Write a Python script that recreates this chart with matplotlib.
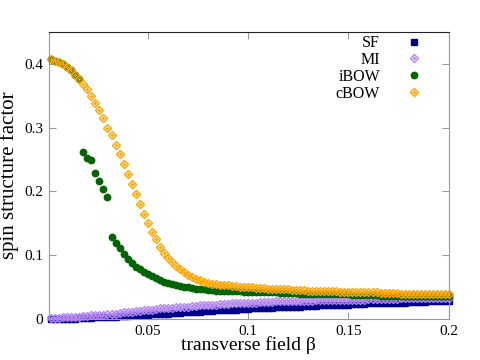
import numpy as np
import matplotlib
matplotlib.use("Agg")
import matplotlib.pyplot as plt
from matplotlib.legend_handler import HandlerTuple

plt.rcParams['font.family'] = ['Liberation Serif', 'DejaVu Serif']

# transverse field grid (beta)
beta = [
    0.002, 0.004, 0.006, 0.008, 0.010, 0.012, 0.014, 0.016, 0.018, 0.020,
    0.022, 0.024, 0.026, 0.028, 0.030, 0.032, 0.034, 0.036, 0.038, 0.040,
    0.042, 0.044, 0.046, 0.048, 0.050, 0.052, 0.054, 0.056, 0.058, 0.060,
    0.062, 0.064, 0.066, 0.068, 0.070, 0.072, 0.074, 0.076, 0.078, 0.080,
    0.082, 0.084, 0.086, 0.088, 0.090, 0.092, 0.094, 0.096, 0.098, 0.100,
    0.102, 0.104, 0.106, 0.108, 0.110, 0.112, 0.114, 0.116, 0.118, 0.120,
    0.122, 0.124, 0.126, 0.128, 0.130, 0.132, 0.134, 0.136, 0.138, 0.140,
    0.142, 0.144, 0.146, 0.148, 0.150, 0.152, 0.154, 0.156, 0.158, 0.160,
    0.162, 0.164, 0.166, 0.168, 0.170, 0.172, 0.174, 0.176, 0.178, 0.180,
    0.182, 0.184, 0.186, 0.188, 0.190, 0.192, 0.194, 0.196, 0.198, 0.200,
]

sf = [
    0.000, 0.000, 0.001, 0.001, 0.001, 0.001, 0.001, 0.002, 0.002, 0.002,
    0.002, 0.003, 0.003, 0.003, 0.004, 0.004, 0.004, 0.005, 0.005, 0.005,
    0.006, 0.006, 0.006, 0.007, 0.007, 0.008, 0.008, 0.008, 0.009, 0.009,
    0.010, 0.010, 0.010, 0.011, 0.011, 0.012, 0.012, 0.012, 0.013, 0.013,
    0.013, 0.014, 0.014, 0.014, 0.015, 0.015, 0.015, 0.016, 0.016, 0.016,
    0.017, 0.017, 0.017, 0.018, 0.018, 0.018, 0.019, 0.019, 0.019, 0.020,
    0.020, 0.020, 0.020, 0.021, 0.021, 0.021, 0.021, 0.022, 0.022, 0.022,
    0.022, 0.023, 0.023, 0.023, 0.023, 0.024, 0.024, 0.024, 0.024, 0.025,
    0.025, 0.025, 0.025, 0.025, 0.026, 0.026, 0.026, 0.026, 0.026, 0.027,
    0.027, 0.027, 0.027, 0.027, 0.028, 0.028, 0.028, 0.028, 0.028, 0.029,
]

mi = [
    0.002, 0.002, 0.002, 0.003, 0.003, 0.003, 0.004, 0.004, 0.005, 0.005,
    0.006, 0.006, 0.007, 0.007, 0.008, 0.009, 0.009, 0.010, 0.011, 0.011,
    0.012, 0.013, 0.013, 0.014, 0.015, 0.015, 0.016, 0.017, 0.017, 0.018,
    0.018, 0.019, 0.019, 0.020, 0.020, 0.021, 0.021, 0.022, 0.022, 0.023,
    0.023, 0.023, 0.024, 0.024, 0.024, 0.025, 0.025, 0.025, 0.026, 0.026,
    0.026, 0.026, 0.027, 0.027, 0.027, 0.027, 0.028, 0.028, 0.028, 0.028,
    0.028, 0.029, 0.029, 0.029, 0.029, 0.029, 0.030, 0.030, 0.030, 0.030,
    0.030, 0.030, 0.031, 0.031, 0.031, 0.031, 0.031, 0.031, 0.031, 0.032,
    0.032, 0.032, 0.032, 0.032, 0.032, 0.032, 0.032, 0.033, 0.033, 0.033,
    0.033, 0.033, 0.033, 0.033, 0.033, 0.033, 0.033, 0.034, 0.034, 0.034,
]

ibow = [
    0.407, 0.404, 0.402, 0.399, 0.394, 0.390, 0.383, 0.376, 0.261, 0.252,
    0.249, 0.229, 0.216, 0.204, 0.191, 0.129, 0.119, 0.111, 0.102, 0.094,
    0.088, 0.082, 0.078, 0.074, 0.071, 0.068, 0.065, 0.062, 0.059, 0.057,
    0.055, 0.054, 0.052, 0.051, 0.050, 0.049, 0.048, 0.047, 0.047, 0.046,
    0.046, 0.045, 0.045, 0.045, 0.044, 0.044, 0.044, 0.044, 0.043, 0.043,
    0.043, 0.043, 0.042, 0.042, 0.042, 0.042, 0.042, 0.041, 0.041, 0.041,
    0.041, 0.041, 0.040, 0.040, 0.040, 0.040, 0.040, 0.040, 0.039, 0.039,
    0.039, 0.039, 0.039, 0.039, 0.039, 0.038, 0.038, 0.038, 0.038, 0.038,
    0.038, 0.038, 0.037, 0.037, 0.037, 0.037, 0.037, 0.037, 0.037, 0.037,
    0.036, 0.036, 0.036, 0.036, 0.036, 0.036, 0.036, 0.036, 0.036, 0.036,
]

cbow = [
    0.407, 0.404, 0.402, 0.399, 0.394, 0.390, 0.383, 0.376, 0.368, 0.360,
    0.349, 0.338, 0.327, 0.315, 0.300, 0.288, 0.272, 0.258, 0.243, 0.227,
    0.211, 0.196, 0.180, 0.165, 0.150, 0.136, 0.125, 0.113, 0.104, 0.096,
    0.090, 0.083, 0.079, 0.074, 0.069, 0.066, 0.063, 0.061, 0.058, 0.057,
    0.056, 0.055, 0.054, 0.054, 0.053, 0.052, 0.052, 0.051, 0.051, 0.050,
    0.050, 0.049, 0.049, 0.049, 0.048, 0.048, 0.048, 0.047, 0.047, 0.047,
    0.046, 0.046, 0.046, 0.046, 0.045, 0.045, 0.045, 0.045, 0.044, 0.044,
    0.044, 0.044, 0.043, 0.043, 0.043, 0.043, 0.043, 0.042, 0.042, 0.042,
    0.042, 0.042, 0.041, 0.041, 0.041, 0.041, 0.041, 0.040, 0.040, 0.040,
    0.040, 0.040, 0.040, 0.039, 0.039, 0.039, 0.039, 0.039, 0.039, 0.039,
]

x_ticks = [0.05, 0.1, 0.15, 0.2]
x_tick_labels = ["0.05", "0.1", "0.15", "0.2"]
y_ticks = [0, 0.1, 0.2, 0.3, 0.4]
y_tick_labels = ["0", "0.1", "0.2", "0.3", "0.4"]

NAVY = '#00008b'
PURPLE = '#b487f5'
GREEN = '#006400'
ORANGE = '#ffa500'

fig = plt.figure(figsize=(4.8, 3.6), dpi=100)
ax = fig.add_axes([0.102, 0.113, 0.833, 0.799])

h_sf, = ax.plot(beta, sf, 's', color=NAVY, markersize=3.8, linestyle='none',
                zorder=2, clip_on=False)

h_mi1, = ax.plot(beta, mi, 'D', mfc='none', mec=PURPLE, markersize=3.6,
                 mew=1.0, linestyle='none', zorder=3, clip_on=False)
h_mi2, = ax.plot(beta, mi, '+', color=PURPLE, markersize=3.0, mew=1.0,
                 linestyle='none', zorder=3, clip_on=False)

h_ib, = ax.plot(beta, ibow, 'o', color=GREEN, markersize=4.6,
                linestyle='none', zorder=4, clip_on=False)

h_cb1, = ax.plot(beta, cbow, 'D', mfc='none', mec=ORANGE, markersize=3.6,
                 mew=1.0, linestyle='none', zorder=5, clip_on=False)
h_cb2, = ax.plot(beta, cbow, '+', color=ORANGE, markersize=3.0, mew=1.0,
                 linestyle='none', zorder=5, clip_on=False)

ax.set_xlim(0.00085, 0.2)
ax.set_ylim(0, 0.45)

ax.set_xticks(x_ticks)
ax.set_xticklabels(x_tick_labels)
ax.set_yticks(y_ticks)
ax.set_yticklabels(y_tick_labels)
ax.tick_params(direction='in', top=True, right=True, length=5, width=0.8,
               labelsize=11, colors='#999999', labelcolor='black', pad=4)

for side in ['left', 'right', 'bottom']:
    ax.spines[side].set_color('#999999')
ax.spines['top'].set_color('#222222')

ax.set_xlabel('transverse field β', fontsize=14, labelpad=-1)
ax.set_ylabel('spin structure factor', fontsize=15, labelpad=4)

leg = ax.legend([h_sf, (h_mi1, h_mi2), h_ib, (h_cb1, h_cb2)],
                ['SF', 'MI', 'iBOW', 'cBOW'],
                handler_map={tuple: HandlerTuple(ndivide=1, pad=0)},
                loc='upper right', bbox_to_anchor=(0.892, 0.92),
                bbox_transform=fig.transFigure, borderaxespad=0,
                frameon=False, markerfirst=False, fontsize=11.5,
                labelspacing=0.05, handlelength=1.0, handletextpad=1.6)
for t in leg.get_texts():
    t.set_ha('right')

fig.savefig('out.png', dpi=100)
